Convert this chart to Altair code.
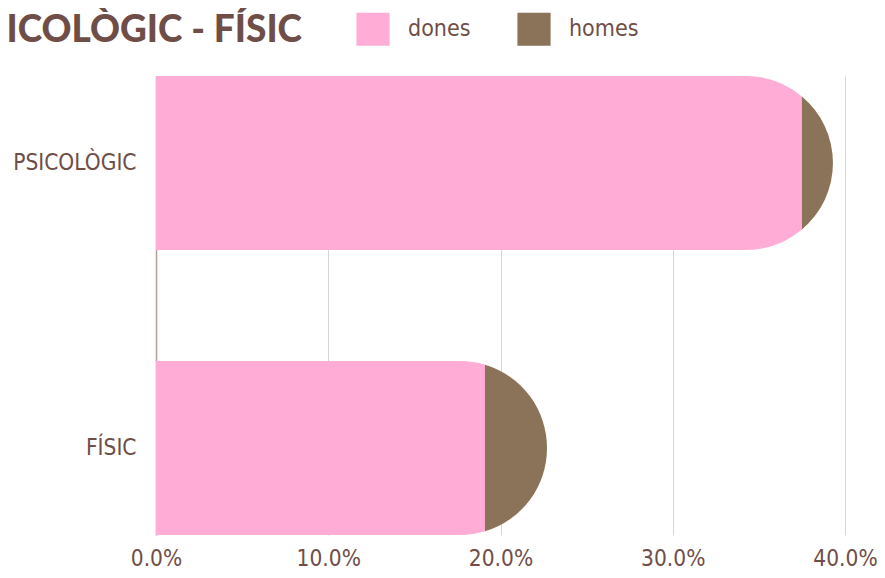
import math
import altair as alt
import pandas as pd

# ---- data ----
categories = ["PSICOLÒGIC", "FÍSIC"]
dones = [0.375, 0.191]
homes = [0.018, 0.036]
series = ["dones", "homes"]
colors = ["#FFADD6", "#8B735A"]
x_ticks = [0.0, 0.1, 0.2, 0.3, 0.4]
title_text = "PSICOLÒGIC - FÍSIC"

TEXT = "#6F4E47"
FONT = "'DejaVu Sans Condensed', Roboto, sans-serif"
TFONT = "Lato"

W, H = 689, 459
XMAX = 0.4
PAD_INNER = 0.39
step = H / (2 - PAD_INNER)
bw = step * (1 - PAD_INNER)
r = bw / 2.0
ppu = W / XMAX
r_u = r / ppu
eps_u = 1.0 / ppu

rows = []
for c, d, h in zip(categories, dones, homes):
    total = d + h
    cx = total - r_u
    dd = max(min((d - cx) * ppu, r), 0.0)
    half = math.sqrt(max(r * r - dd * dd, 0.0))
    th = math.atan2(dd, half)
    rows.append(dict(cat=c, dones=d, homes=h, total=total, cx=cx,
                     rect_end=min(d, cx + eps_u), chord=2 * half,
                     b0=th, b1=math.pi - th, p0=0.0, p1=th,
                     q0=math.pi - th, q1=math.pi))
df = pd.DataFrame(rows)

xscale = alt.Scale(domain=[0, XMAX], nice=False, zero=True)
xaxis = alt.Axis(values=x_ticks, format=".1%", title=None, ticks=False, tickSize=0,
                 domain=False, grid=True, gridColor="#D6D6D6", gridWidth=1,
                 labelFlush=False, labelOverlap=False,
                 labelFontSize=22.5, labelFont=FONT, labelColor=TEXT, labelPadding=12)
yscale = alt.Scale(paddingInner=PAD_INNER, paddingOuter=0)
yaxis = alt.Axis(title=None, ticks=False, labelFontSize=22.5, labelFont=FONT, labelColor=TEXT,
                 labelPadding=20, domain=True, domainColor="#B89C9C", domainWidth=1.5, grid=False)

color = alt.Color("serie:N", scale=alt.Scale(domain=series, range=colors),
                  legend=alt.Legend(orient="none", legendX=200, legendY=-64, direction="horizontal",
                                    title=None, symbolType="square", symbolSize=1100,
                                    symbolStrokeWidth=0, symbolOpacity=1,
                                    labelFontSize=23, labelFont=FONT, labelColor=TEXT,
                                    labelOffset=18, columnPadding=46, padding=0))

base = alt.Chart(df)
Y = alt.Y("cat:N", sort=categories, scale=yscale, axis=yaxis)
Yc = alt.Y("cat:N", sort=categories, scale=yscale, axis=yaxis, bandPosition=0.5)

pink = f"'{series[0]}'"
brown = f"'{series[1]}'"

brown_sector = base.mark_arc(radius=r).transform_calculate(serie=brown).encode(
    x=alt.X("cx:Q", scale=xscale, axis=xaxis), y=Yc,
    theta=alt.Theta("b0:Q", scale=None, stack=None), theta2="b1:Q", color=color)

pink_main = base.mark_bar().transform_calculate(serie=pink).encode(
    x=alt.X("rect_end:Q", scale=xscale, axis=xaxis, stack=None), y=Y, color=color)

pink_chord = base.mark_bar().transform_calculate(serie=pink).encode(
    x=alt.X("dones:Q", scale=xscale, axis=xaxis, stack=None), y=Y,
    size=alt.Size("chord:Q", scale=None), color=color)

pink_up = base.mark_arc(radius=r).transform_calculate(serie=pink).encode(
    x=alt.X("cx:Q", scale=xscale, axis=xaxis), y=Yc,
    theta=alt.Theta("p0:Q", scale=None, stack=None), theta2="p1:Q", color=color)

pink_dn = base.mark_arc(radius=r).transform_calculate(serie=pink).encode(
    x=alt.X("cx:Q", scale=xscale, axis=xaxis), y=Yc,
    theta=alt.Theta("q0:Q", scale=None, stack=None), theta2="q1:Q", color=color)

title = alt.Chart(pd.DataFrame({"t": [title_text]})).mark_text(
    align="right", baseline="alphabetic", fontSize=37, fontWeight=900,
    font=TFONT, color=TEXT).encode(x=alt.value(146), y=alt.value(-34), text="t:N")

chart = alt.layer(brown_sector, pink_main, pink_chord, pink_up, pink_dn, title).properties(
    width=W, height=H,
    padding={"left": 148, "top": 68, "right": 32, "bottom": 35},
    autosize=alt.AutoSizeParams(type="none"),
    background="white",
).configure_view(stroke=None)

chart.save("out.html", embed_options={"renderer": "svg", "actions": False})
